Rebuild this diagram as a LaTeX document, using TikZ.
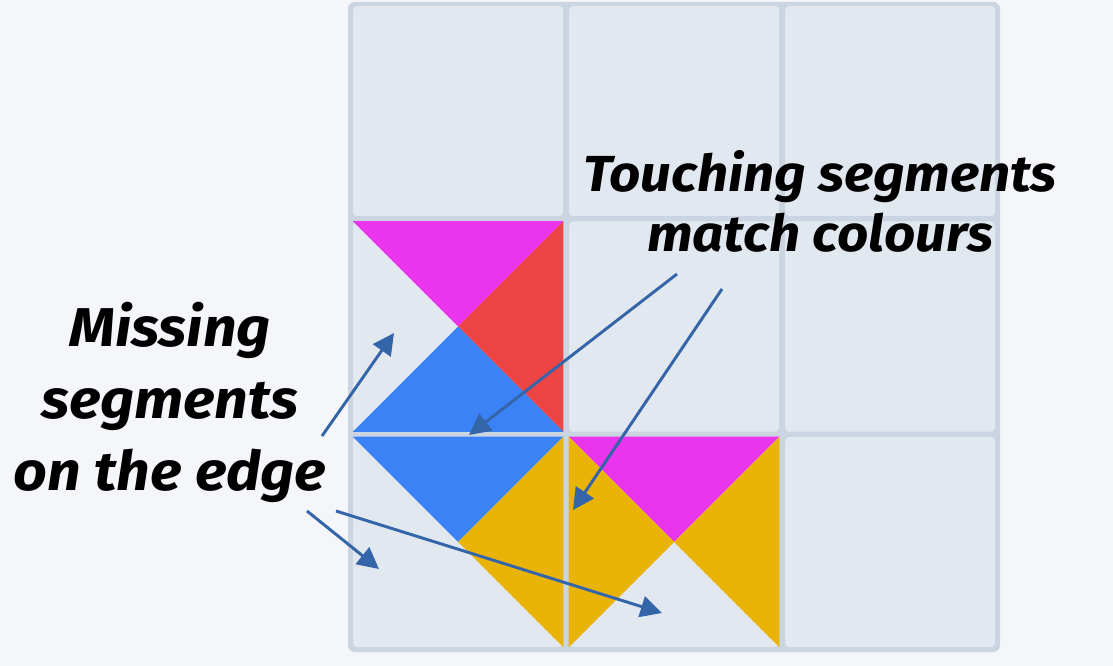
\documentclass[tikz,border=0pt]{standalone}
\usepackage{fontspec}
\newfontfamily\notefont{Fira Sans}[FakeStretch=1.08]
\usetikzlibrary{arrows.meta}

\definecolor{pagebg}{HTML}{F4F6FA}
\definecolor{boardgrey}{HTML}{CBD5E1}
\definecolor{cellgrey}{HTML}{E2E8F0}
\definecolor{tilepink}{HTML}{E935EE}
\definecolor{tilered}{HTML}{EF4444}
\definecolor{tileblue}{HTML}{3B82F6}
\definecolor{tileyellow}{HTML}{EAB308}
\definecolor{arrowblue}{HTML}{3465A8}

\begin{document}
\begin{tikzpicture}[x=0.75pt,y=-0.75pt]
\tikzset{
  cell/.style={rectangle,rounded corners=3pt,fill=cellgrey,minimum size=157.5pt,inner sep=0pt},
  pointer/.style={-{Triangle[length=16pt,width=16pt]},line width=2.2pt,draw=arrowblue},
  note/.style={align=center,anchor=base,text=black,font=\notefont\bfseries\itshape}
}
% background and board
\fill[pagebg] (0,0) rectangle (1113,666);
\useasboundingbox (0,0) rectangle (1113,666);
\fill[boardgrey,rounded corners=5pt] (348,2) rectangle (1000,652);
% cells
\node[cell] (c11) at (458,111) {};
\node[cell] (c12) at (674,111) {};
\node[cell] (c13) at (890,111) {};
\node[cell] (c21) at (458,326.5) {};
\node[cell] (c22) at (674,326.5) {};
\node[cell] (c23) at (890,326.5) {};
\node[cell] (c31) at (458,542) {};
\node[cell] (c32) at (674,542) {};
\node[cell] (c33) at (890,542) {};
% tile segments
\fill[tilepink] (c21.north west) -- (c21.north east) -- (c21.center) -- cycle;
\fill[tilered] (c21.north east) -- (c21.south east) -- (c21.center) -- cycle;
\fill[tileblue] (c21.south west) -- (c21.south east) -- (c21.center) -- cycle;
\fill[tileblue] (c31.north west) -- (c31.north east) -- (c31.center) -- cycle;
\fill[tileyellow] (c31.north east) -- (c31.south east) -- (c31.center) -- cycle;
\fill[tilepink] (c32.north west) -- (c32.north east) -- (c32.center) -- cycle;
\fill[tileyellow] (c32.north west) -- (c32.south west) -- (c32.center) -- cycle;
\fill[tileyellow] (c32.north east) -- (c32.south east) -- (c32.center) -- cycle;
% labels (base anchor sits on the last line)
\node[note,font=\notefont\bfseries\itshape\fontsize{41}{54}\selectfont] (lblmissing) at (170,490) {Missing\\segments\\on the edge};
\node[note,font=\notefont\bfseries\itshape\fontsize{38}{45}\selectfont] (lbltouch) at (820,252) {Touching segments\\match colours};
% arrow ends
\coordinate (m_up) at (322,436);
\coordinate (m_down) at (307,511);
\coordinate (m_long) at (336,511);
\coordinate (t_left) at (677,274);
\coordinate (t_right) at (722,289);
\coordinate (gap_left) at (394,333);
\coordinate (gap_bottom) at (379,569);
\coordinate (gap_mid) at (662,613);
\coordinate (edge_blue) at (469,435);
\coordinate (edge_yellow) at (573,510);
\draw[pointer] (m_up) -- (gap_left);
\draw[pointer] (m_down) -- (gap_bottom);
\draw[pointer] (m_long) -- (gap_mid);
\draw[pointer] (t_left) -- (edge_blue);
\draw[pointer] (t_right) -- (edge_yellow);
\end{tikzpicture}
\end{document}
